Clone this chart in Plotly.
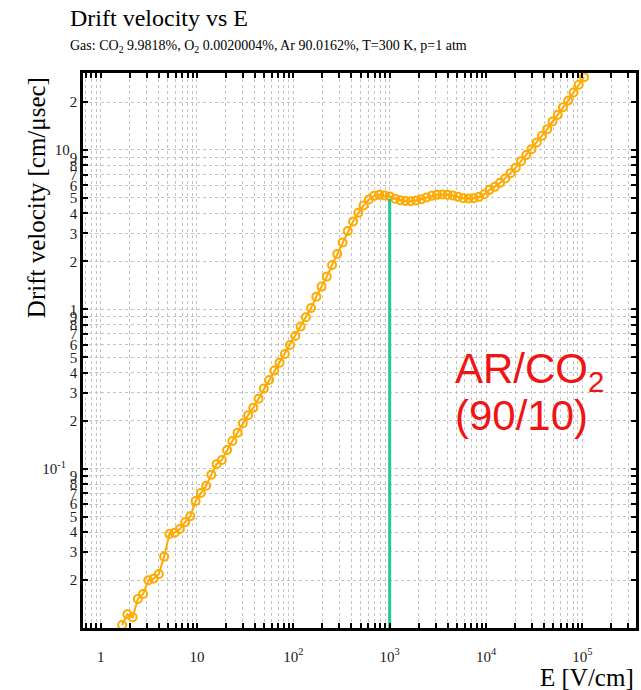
import plotly.graph_objects as go

# ---------------- data ----------------
E_field = [1.671, 1.895, 2.148, 2.435, 2.760, 3.129, 3.548, 4.022, 4.559, 5.169,
           5.860, 6.643, 7.531, 8.537, 9.676, 10.97, 12.44, 14.10, 15.98, 18.12,
           20.54, 23.29, 26.40, 29.92, 33.92, 38.46, 43.60, 49.43, 56.03, 63.53,
           72.02, 81.65, 92.56, 104.9, 118.9, 134.9, 152.9, 173.3, 196.5, 222.7,
           252.5, 286.2, 324.5, 367.9, 417.1, 472.8, 536.0, 607.7, 688.7, 780.8,
           885.1, 1003, 1138, 1290, 1462, 1658, 1879, 2130, 2415, 2737,
           3103, 3518, 3989, 4521, 5126, 5811, 6588, 7468, 8467, 9596,
           10880, 12330, 13980, 15850, 17970, 20370, 23090, 26180, 29680, 33650,
           38140, 43240, 49030, 55580, 63010, 71430, 80980, 91800, 104100]

drift_velocity = [0.01044, 0.01219, 0.01167, 0.01521, 0.01634, 0.01992, 0.02039, 0.02183, 0.02804, 0.03891,
                  0.03965, 0.04181, 0.04609, 0.05025, 0.06270, 0.07038, 0.07820, 0.09170, 0.1066, 0.1134,
                  0.1310, 0.1493, 0.1683, 0.1928, 0.2164, 0.2415, 0.2750, 0.3179, 0.3604, 0.4124,
                  0.4627, 0.5248, 0.5976, 0.6808, 0.7787, 0.8920, 1.020, 1.201, 1.388, 1.604,
                  1.899, 2.227, 2.623, 3.097, 3.563, 4.029, 4.489, 4.883, 5.151, 5.227,
                  5.188, 5.099, 4.947, 4.841, 4.778, 4.770, 4.813, 4.911, 5.026, 5.151,
                  5.227, 5.250, 5.227, 5.173, 5.077, 4.983, 4.955, 4.983, 5.077, 5.279,
                  5.618, 5.868, 6.217, 6.632, 7.153, 7.744, 8.506, 9.290, 10.12, 11.13,
                  12.26, 13.51, 15.08, 16.61, 18.57, 20.42, 22.93, 25.63, 28.64]

# vertical reference line at E = 1000 V/cm
ref_E = [1000, 1000]
ref_v = [0.009, 4.95]

# ---------------- ticks ----------------
x_tickvals = [0.7, 0.8, 0.9] + [m * 10 ** d for d in range(0, 5) for m in range(1, 10)] + [1e5, 2e5, 3e5]
x_decade_text = {1: "1", 10: "10", 100: "10<sup>2</sup>", 1000: "10<sup>3</sup>",
                 10000: "10<sup>4</sup>", 100000: "10<sup>5</sup>"}
x_ticktext = [x_decade_text.get(int(round(v)), "") if v >= 1 else "" for v in x_tickvals]

NB = "\u00a0"
y_tickvals = [0.02, 0.03, 0.04, 0.05, 0.06, 0.07, 0.08, 0.09,
              0.1, 0.2, 0.3, 0.4, 0.5, 0.6, 0.7, 0.8, 0.9,
              1, 2, 3, 4, 5, 6, 7, 8, 9,
              10, 20]
y_ticktext = ["2", "3", "4", "5", "6", "7", "8", "9",
              "10<sup>-1</sup>" + NB * 3, "2", "3", "4", "5", "6", "7", "8", "9",
              "1", "2", "3", "4", "5", "6", "7", "8", "9",
              "10" + NB * 2, "2"]

SERIF = "Liberation Serif"
SANS = "Liberation Sans"

fig = go.Figure()
fig.add_trace(go.Scatter(
    x=E_field, y=drift_velocity, mode="lines+markers",
    line=dict(color="#ffaa00", width=2),
    marker=dict(symbol="circle-open", size=8, color="#ffaa00", line=dict(width=2, color="#ffaa00")),
    hoverinfo="skip"))
fig.add_trace(go.Scatter(
    x=ref_E, y=ref_v, mode="lines",
    line=dict(color="#1fcc96", width=3), hoverinfo="skip"))

axis_common = dict(
    type="log", ticks="inside", ticklen=5, tickwidth=1.5, tickcolor="black",
    showline=True, linecolor="black", linewidth=2.5, mirror="ticks",
    showgrid=True, gridcolor="#c4c4c4", griddash="dot", gridwidth=1,
    zeroline=False, tickangle=0,
    tickfont=dict(family=SERIF, size=15, color="#1a1a1a"),
)

fig.update_layout(
    width=641, height=690,
    margin=dict(l=83, r=2, t=73, b=62),
    paper_bgcolor="white", plot_bgcolor="white",
    showlegend=False,
    font=dict(family=SERIF, color="black"),
    xaxis=dict(axis_common, range=[-0.183, 5.557], tickvals=x_tickvals, ticktext=x_ticktext,
               ticklabelstandoff=13),
    yaxis=dict(axis_common, range=[-2, 1.483], tickvals=y_tickvals, ticktext=y_ticktext,
               ticklabelstandoff=0),
    annotations=[
        dict(text="Drift velocity vs E", xref="paper", yref="paper", x=-0.027, y=1.099,
             xanchor="left", yanchor="middle", showarrow=False,
             font=dict(family=SERIF, size=24, color="black")),
        dict(text="Gas: CO<sub>2</sub> 9.9818%, O<sub>2</sub> 0.0020004%, Ar 90.0162%, T=300 K, p=1 atm",
             xref="paper", yref="paper", x=-0.027, y=1.048,
             xanchor="left", yanchor="middle", showarrow=False,
             font=dict(family=SERIF, size=14, color="black")),
        dict(text="Drift velocity [cm/\u03bcsec]", xref="paper", yref="paper", x=-0.085, y=0.997,
             xanchor="center", yanchor="top", textangle=-90, showarrow=False,
             font=dict(family=SERIF, size=25, color="black")),
        dict(text="E [V/cm]", xref="paper", yref="paper", x=1.0, y=-0.090,
             xanchor="right", yanchor="middle", showarrow=False,
             font=dict(family=SERIF, size=25, color="black")),
        dict(text="AR/CO<sub>2</sub>", xref="paper", yref="paper", x=0.669, y=0.462,
             xanchor="left", yanchor="middle", showarrow=False,
             font=dict(family=SANS, size=42, color="#f01414")),
        dict(text="(90/10)", xref="paper", yref="paper", x=0.669, y=0.382,
             xanchor="left", yanchor="middle", showarrow=False,
             font=dict(family=SANS, size=42, color="#f01414")),
    ],
)

fig.write_html("out.html")
